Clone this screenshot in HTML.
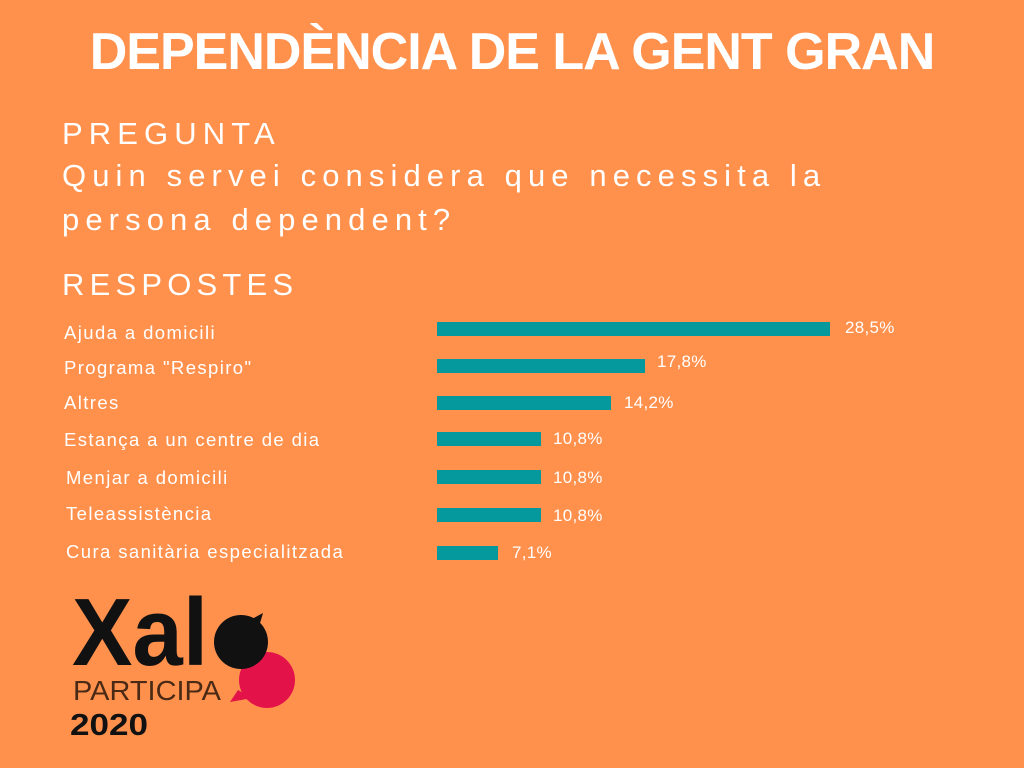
<!DOCTYPE html>
<html><head><meta charset="utf-8"><style>
body{margin:0;width:1024px;height:768px;background:#FF914D;position:relative;overflow:hidden;font-family:"Liberation Sans",sans-serif;color:#fff}
.a{position:absolute;white-space:nowrap}
.t{left:0;width:1024px;text-align:center;top:22px;font-size:52px;font-weight:bold;letter-spacing:-1px}
.q{font-size:31px;letter-spacing:6.1px;left:62px}
.l{font-size:18.5px;left:64px;letter-spacing:1.4px}
.b{position:absolute;left:437px;background:#05999D;height:14px}
.v{font-size:17px;letter-spacing:0.3px}
</style></head><body>
<div class="a t">DEPENDÈNCIA DE LA GENT GRAN</div>
<div class="a q" style="top:116px">PREGUNTA</div>
<div class="a q" style="top:158px">Quin servei considera que necessita la</div>
<div class="a q" style="top:202px">persona dependent?</div>
<div class="a q" style="top:267px;letter-spacing:5.2px">RESPOSTES</div>
<div class="a l" style="top:322px">Ajuda a domicili</div>
<div class="a l" style="top:357px">Programa "Respiro"</div>
<div class="a l" style="top:392px">Altres</div>
<div class="a l" style="top:429px">Estança a un centre de dia</div>
<div class="a l" style="top:467px;left:66px">Menjar a domicili</div>
<div class="a l" style="top:503px;left:66px">Teleassistència</div>
<div class="a l" style="top:541px;left:66px">Cura sanitària especialitzada</div>
<div class="b" style="top:322px;width:393px"></div>
<div class="b" style="top:359px;width:208px"></div>
<div class="b" style="top:396px;width:174px"></div>
<div class="b" style="top:432px;width:104px"></div>
<div class="b" style="top:470px;width:104px"></div>
<div class="b" style="top:508px;width:104px"></div>
<div class="b" style="top:546px;width:61px"></div>
<div class="a v" style="left:845px;top:318px">28,5%</div>
<div class="a v" style="left:657px;top:352px">17,8%</div>
<div class="a v" style="left:624px;top:393px">14,2%</div>
<div class="a v" style="left:553px;top:429px">10,8%</div>
<div class="a v" style="left:553px;top:468px">10,8%</div>
<div class="a v" style="left:553px;top:506px">10,8%</div>
<div class="a v" style="left:512px;top:543px">7,1%</div>
<svg class="a" style="left:60px;top:580px" width="250" height="160">
<path d="M178 110 L170 122 L192 118 Z" fill="#E3134A"/>
<circle cx="207" cy="100" r="28" fill="#E3134A"/>
<path d="M190 40 L203 33 L198 50 Z" fill="#111"/>
<circle cx="181" cy="62" r="27" fill="#111"/>
<text x="12" y="85" font-family="Liberation Sans" font-weight="bold" font-size="96" fill="#111" textLength="136" lengthAdjust="spacingAndGlyphs">Xal</text>
<text x="13" y="120" font-family="Liberation Sans" font-size="28" fill="#4a2a15" textLength="148" lengthAdjust="spacingAndGlyphs">PARTICIPA</text>
<text x="10" y="155" font-family="Liberation Sans" font-weight="bold" font-size="31" fill="#111" textLength="78" lengthAdjust="spacingAndGlyphs">2020</text>
</svg>
</body></html>
